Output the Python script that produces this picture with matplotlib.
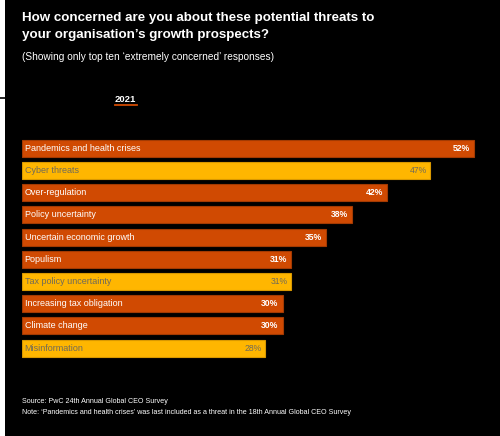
import matplotlib
matplotlib.use("Agg")
import matplotlib.pyplot as plt
from matplotlib.patches import Rectangle
from matplotlib.lines import Line2D

categories = ["Pandemics and health crises", "Cyber threats", "Over-regulation",
              "Policy uncertainty", "Uncertain economic growth", "Populism",
              "Tax policy uncertainty", "Increasing tax obligation", "Climate change",
              "Misinformation"]
values = [52, 47, 42, 38, 35, 31, 31, 30, 30, 28]
kinds = ["o", "y", "o", "o", "o", "o", "y", "o", "o", "y"]

title = "How concerned are you about these potential threats to\nyour organisation\u2019s growth prospects?"
subtitle = "(Showing only top ten \u2018extremely concerned\u2019 responses)"
tab_label = "2021"
source = "Source: PwC 24th Annual Global CEO Survey"
note = "Note: \u2018Pandemics and health crises\u2019 was last included as a threat in the 18th Annual Global CEO Survey"

ORANGE = "#D04A02"
ORANGE_EDGE = "#A33A02"
YELLOW = "#FFB600"
YELLOW_EDGE = "#D99800"

plt.rcParams['font.family'] = ['Liberation Sans', 'DejaVu Sans']

W, H = 500, 436
fig = plt.figure(figsize=(W / 100, H / 100), dpi=100, facecolor="black")

# white strip on the left edge
fig.patches.append(Rectangle((0, 0), 5 / W, 1, transform=fig.transFigure,
                             facecolor="white", edgecolor="none", zorder=0))
fig.lines.append(Line2D([0, 8 / W], [1 - 98 / H, 1 - 98 / H], transform=fig.transFigure,
                        color="black", lw=1.2))

def fx(px):
    return px / W

def fy(py):
    return 1 - py / H

fig.text(fx(22), fy(12.5), title, color="white", fontsize=9.6, fontweight="bold",
         va="top", ha="left", linespacing=1.45)
fig.text(fx(22), fy(57), subtitle, color="white", fontsize=7.3, va="center", ha="left")
fig.text(fx(115), fy(100), tab_label, color="white", fontsize=6.8, fontweight="bold",
         va="center", ha="left")
fig.lines.append(Line2D([fx(115), fx(137)], [fy(105.5), fy(105.5)], transform=fig.transFigure,
                        color=ORANGE, lw=1.3))

fig.text(fx(22), fy(401), source, color="white", fontsize=5.1, va="center", ha="left")
fig.text(fx(22), fy(412), note, color="white", fontsize=5.15, va="center", ha="left")

# bars axes
left_px, top_px, bottom_px = 21.5, 137.2, 359.2
px_per_unit = (474 - 21.5) / 52
xmax = 55
ax = fig.add_axes([fx(left_px), fy(bottom_px), xmax * px_per_unit / W, (bottom_px - top_px) / H])
ax.set_facecolor("none")
ax.set_xlim(0, xmax)
ax.set_ylim(len(categories) - 0.5, -0.5)
ax.axis("off")

ys = list(range(len(categories)))
fcs = [ORANGE if k == "o" else YELLOW for k in kinds]
ecs = [ORANGE_EDGE if k == "o" else YELLOW_EDGE for k in kinds]
ax.barh(ys, values, height=0.76, color=fcs, edgecolor=ecs, linewidth=0.8)

for y, v, c, k in zip(ys, values, categories, kinds):
    tc = "white" if k == "o" else "#6f6a5a"
    ax.text(0.35, y, c, color=tc, fontsize=6.5, va="center", ha="left",
            fontweight="normal")
    ax.text(v - 0.45, y, f"{v}%", color=tc, fontsize=6.2, va="center", ha="right",
            fontweight="bold" if k == "o" else "normal")

fig.savefig("out.png", dpi=100, facecolor="black")
